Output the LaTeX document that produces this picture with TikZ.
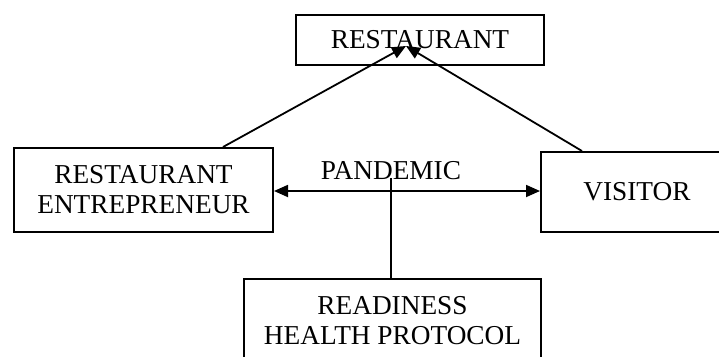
\documentclass[tikz,border=0pt]{standalone}
\usepackage{fontspec}
\setmainfont{Liberation Serif}
\usetikzlibrary{arrows.meta}
\begin{document}
\begin{tikzpicture}[x=1pt,y=-1pt,
  box/.style={draw,line width=2pt,inner sep=0pt,anchor=north west,
    font=\fontsize{27.3}{30}\selectfont,align=center},
  lbl/.style={inner sep=0pt,font=\fontsize{27.3}{30}\selectfont},
  conn/.style={line width=1.8pt},
  tip/.style={-{Triangle[length=14pt,width=12pt]}},
  dtip/.style={{Triangle[length=14pt,width=12pt]}-{Triangle[length=14pt,width=12pt]}}]
\useasboundingbox (0,0) rectangle (719,356);
\clip (0,0) rectangle (719,356);
\node[box,minimum width=248pt,minimum height=50pt] (rest) at (295,14) {RESTAURANT};
\node[box,minimum width=259pt,minimum height=84pt] (ent) at (13,147) {RESTAURANT\\ENTREPRENEUR};
\node[box,minimum width=192pt,minimum height=80pt] (vis) at (540,151) {VISITOR};
\node[box,minimum width=297pt,minimum height=84pt] (prot) at (243,278) {READINESS\\HEALTH PROTOCOL};
\node[lbl] (pan) at (391,171) {PANDEMIC};
\coordinate (rtip) at (406,46);
\coordinate (a1) at (223,147);
\coordinate (a2) at (582,151);
\coordinate (hy) at (0,191);
\coordinate (vtop) at (391,178);
\draw[conn,tip] (a1) -- (rtip);
\draw[conn,tip] (a2) -- (rtip);
\draw[conn,dtip] (ent.east |- hy) -- (vis.west |- hy);
\draw[line width=2pt] (vtop) -- (vtop |- prot.north);
\end{tikzpicture}
\end{document}
